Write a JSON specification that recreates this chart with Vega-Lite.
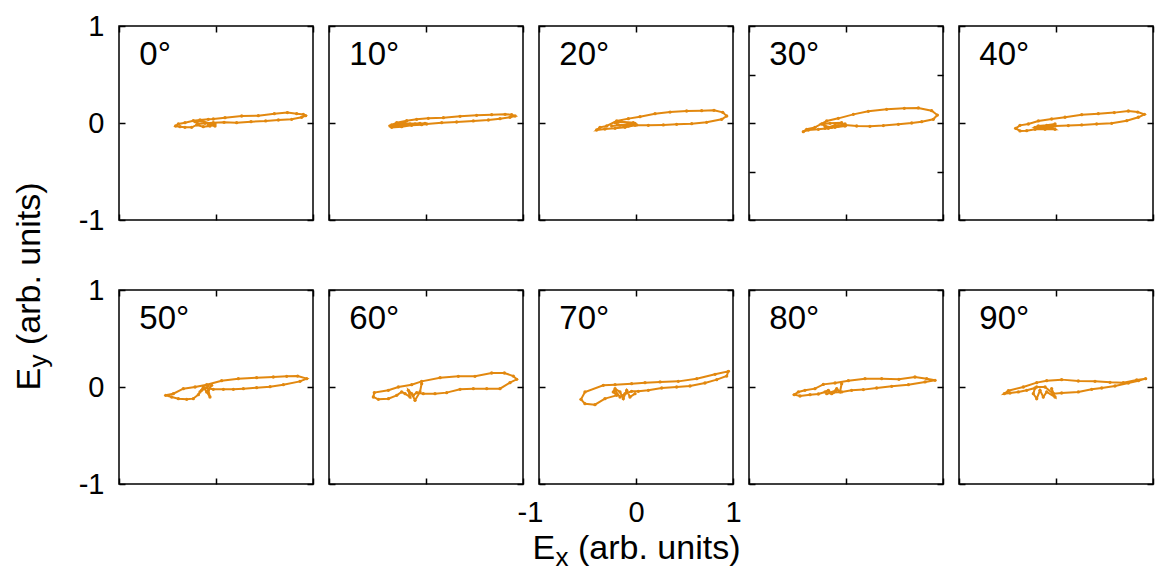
{
"$schema": "https://vega.github.io/schema/vega-lite/v6.json",
"background": "white",
"padding": {"left": 11, "top": 11, "right": 0, "bottom": 0},
"config": {
  "font": "Liberation Sans",
  "view": {"stroke": "black", "strokeWidth": 1.5},
  "axis": {"grid": false, "domain": false, "tickColor": "black", "tickSize": -6, "tickWidth": 1.5, "labelColor": "black", "labelFontSize": 29, "labelFont": "Liberation Sans", "labelFlush": false, "labelOverlap": false, "labelPadding": 21, "labelExpr": "'' + datum.value", "titleFont": "Liberation Sans", "titleColor": "black", "titleFontWeight": "normal", "titleFontSize": 34},
  "axisX": {"labelPadding": 20},
  "text": {"font": "Liberation Sans", "color": "black"}
},
"datasets": {
"d": [
{"a":0,"i":0,"x":-0.010,"y":-0.010},{"a":0,"i":1,"x":-0.062,"y":-0.031},{"a":0,"i":2,"x":-0.131,"y":-0.038},{"a":0,"i":3,"x":-0.199,"y":-0.020},{"a":0,"i":4,"x":-0.251,"y":-0.045},{"a":0,"i":5,"x":-0.320,"y":-0.045},{"a":0,"i":6,"x":-0.371,"y":-0.038},{"a":0,"i":7,"x":-0.416,"y":-0.031},{"a":0,"i":8,"x":-0.388,"y":-0.010},{"a":0,"i":9,"x":-0.320,"y":0.003},{"a":0,"i":10,"x":-0.234,"y":0.024},{"a":0,"i":11,"x":-0.165,"y":0.031},{"a":0,"i":12,"x":-0.079,"y":0.038},{"a":0,"i":13,"x":-0.028,"y":0.041},{"a":0,"i":14,"x":0.093,"y":0.055},{"a":0,"i":15,"x":0.265,"y":0.072},{"a":0,"i":16,"x":0.436,"y":0.076},{"a":0,"i":17,"x":0.601,"y":0.096},{"a":0,"i":18,"x":0.736,"y":0.107},{"a":0,"i":19,"x":0.832,"y":0.096},{"a":0,"i":20,"x":0.900,"y":0.089},{"a":0,"i":21,"x":0.924,"y":0.076},{"a":0,"i":22,"x":0.883,"y":0.059},{"a":0,"i":23,"x":0.780,"y":0.038},{"a":0,"i":24,"x":0.643,"y":0.031},{"a":0,"i":25,"x":0.512,"y":0.021},{"a":0,"i":26,"x":0.361,"y":0.014},{"a":0,"i":27,"x":0.213,"y":0.003},{"a":0,"i":28,"x":0.083,"y":0.007},{"a":0,"i":29,"x":-0.028,"y":0.003},{"a":0,"i":30,"x":-0.113,"y":-0.003},{"a":0,"i":31,"x":-0.182,"y":-0.010},{"a":0,"i":32,"x":-0.216,"y":0.014},{"a":0,"i":33,"x":-0.148,"y":0.021},{"a":0,"i":34,"x":-0.045,"y":-0.010},{"a":0,"i":35,"x":-0.010,"y":-0.031},{"a":0,"i":36,"x":-0.079,"y":-0.020},
{"a":10,"i":0,"x":-0.010,"y":-0.003},{"a":10,"i":1,"x":-0.113,"y":-0.010},{"a":10,"i":2,"x":-0.216,"y":-0.003},{"a":10,"i":3,"x":-0.302,"y":-0.010},{"a":10,"i":4,"x":-0.371,"y":-0.031},{"a":10,"i":5,"x":-0.354,"y":-0.045},{"a":10,"i":6,"x":-0.251,"y":-0.038},{"a":10,"i":7,"x":-0.148,"y":-0.024},{"a":10,"i":8,"x":-0.045,"y":-0.017},{"a":10,"i":9,"x":0.007,"y":-0.010},{"a":10,"i":10,"x":0.162,"y":0.003},{"a":10,"i":11,"x":0.316,"y":0.010},{"a":10,"i":12,"x":0.488,"y":0.021},{"a":10,"i":13,"x":0.643,"y":0.031},{"a":10,"i":14,"x":0.763,"y":0.045},{"a":10,"i":15,"x":0.866,"y":0.059},{"a":10,"i":16,"x":0.918,"y":0.072},{"a":10,"i":17,"x":0.883,"y":0.086},{"a":10,"i":18,"x":0.815,"y":0.089},{"a":10,"i":19,"x":0.677,"y":0.086},{"a":10,"i":20,"x":0.522,"y":0.079},{"a":10,"i":21,"x":0.351,"y":0.069},{"a":10,"i":22,"x":0.179,"y":0.055},{"a":10,"i":23,"x":0.024,"y":0.048},{"a":10,"i":24,"x":-0.096,"y":0.038},{"a":10,"i":25,"x":-0.199,"y":0.024},{"a":10,"i":26,"x":-0.302,"y":0.003},{"a":10,"i":27,"x":-0.354,"y":-0.020},{"a":10,"i":28,"x":-0.268,"y":-0.024},{"a":10,"i":29,"x":-0.165,"y":-0.010},{"a":10,"i":30,"x":-0.062,"y":-0.003},
{"a":20,"i":0,"x":-0.010,"y":-0.003},{"a":20,"i":1,"x":-0.079,"y":-0.031},{"a":20,"i":2,"x":-0.182,"y":-0.020},{"a":20,"i":3,"x":-0.216,"y":0.003},{"a":20,"i":4,"x":-0.148,"y":0.014},{"a":20,"i":5,"x":-0.028,"y":0.003},{"a":20,"i":6,"x":-0.010,"y":-0.024},{"a":20,"i":7,"x":-0.113,"y":-0.045},{"a":20,"i":8,"x":-0.216,"y":-0.055},{"a":20,"i":9,"x":-0.320,"y":-0.062},{"a":20,"i":10,"x":-0.406,"y":-0.072},{"a":20,"i":11,"x":-0.371,"y":-0.045},{"a":20,"i":12,"x":-0.302,"y":-0.031},{"a":20,"i":13,"x":-0.199,"y":0.021},{"a":20,"i":14,"x":-0.079,"y":0.045},{"a":20,"i":15,"x":0.041,"y":0.065},{"a":20,"i":16,"x":0.196,"y":0.096},{"a":20,"i":17,"x":0.351,"y":0.113},{"a":20,"i":18,"x":0.522,"y":0.124},{"a":20,"i":19,"x":0.677,"y":0.127},{"a":20,"i":20,"x":0.804,"y":0.131},{"a":20,"i":21,"x":0.894,"y":0.110},{"a":20,"i":22,"x":0.935,"y":0.072},{"a":20,"i":23,"x":0.883,"y":0.038},{"a":20,"i":24,"x":0.728,"y":0.007},{"a":20,"i":25,"x":0.574,"y":-0.007},{"a":20,"i":26,"x":0.419,"y":-0.014},{"a":20,"i":27,"x":0.282,"y":-0.020},{"a":20,"i":28,"x":0.127,"y":-0.024},{"a":20,"i":29,"x":0.007,"y":-0.020},{"a":20,"i":30,"x":-0.079,"y":-0.010},{"a":20,"i":31,"x":-0.165,"y":-0.024},{"a":20,"i":32,"x":-0.251,"y":-0.031},
{"a":30,"i":0,"x":-0.010,"y":-0.010},{"a":30,"i":1,"x":-0.079,"y":-0.031},{"a":30,"i":2,"x":-0.148,"y":-0.045},{"a":30,"i":3,"x":-0.216,"y":-0.031},{"a":30,"i":4,"x":-0.251,"y":-0.010},{"a":30,"i":5,"x":-0.165,"y":-0.003},{"a":30,"i":6,"x":-0.045,"y":0.003},{"a":30,"i":7,"x":-0.010,"y":-0.031},{"a":30,"i":8,"x":-0.113,"y":-0.045},{"a":30,"i":9,"x":-0.182,"y":-0.055},{"a":30,"i":10,"x":-0.285,"y":-0.065},{"a":30,"i":11,"x":-0.388,"y":-0.072},{"a":30,"i":12,"x":-0.440,"y":-0.089},{"a":30,"i":13,"x":-0.405,"y":-0.065},{"a":30,"i":14,"x":-0.320,"y":-0.045},{"a":30,"i":15,"x":-0.199,"y":0.021},{"a":30,"i":16,"x":-0.079,"y":0.048},{"a":30,"i":17,"x":0.076,"y":0.089},{"a":30,"i":18,"x":0.230,"y":0.120},{"a":30,"i":19,"x":0.419,"y":0.141},{"a":30,"i":20,"x":0.601,"y":0.151},{"a":30,"i":21,"x":0.746,"y":0.155},{"a":30,"i":22,"x":0.883,"y":0.127},{"a":30,"i":23,"x":0.942,"y":0.082},{"a":30,"i":24,"x":0.900,"y":0.038},{"a":30,"i":25,"x":0.780,"y":0.014},{"a":30,"i":26,"x":0.677,"y":0.000},{"a":30,"i":27,"x":0.540,"y":-0.014},{"a":30,"i":28,"x":0.385,"y":-0.027},{"a":30,"i":29,"x":0.247,"y":-0.034},{"a":30,"i":30,"x":0.110,"y":-0.031},{"a":30,"i":31,"x":-0.010,"y":-0.020},{"a":30,"i":32,"x":-0.113,"y":-0.024},{"a":30,"i":33,"x":-0.216,"y":-0.055},
{"a":40,"i":0,"x":-0.010,"y":-0.010},{"a":40,"i":1,"x":-0.096,"y":-0.024},{"a":40,"i":2,"x":-0.182,"y":-0.031},{"a":40,"i":3,"x":-0.216,"y":-0.045},{"a":40,"i":4,"x":-0.148,"y":-0.055},{"a":40,"i":5,"x":-0.045,"y":-0.045},{"a":40,"i":6,"x":-0.010,"y":-0.065},{"a":40,"i":7,"x":-0.113,"y":-0.065},{"a":40,"i":8,"x":-0.216,"y":-0.065},{"a":40,"i":9,"x":-0.302,"y":-0.079},{"a":40,"i":10,"x":-0.371,"y":-0.082},{"a":40,"i":11,"x":-0.416,"y":-0.055},{"a":40,"i":12,"x":-0.371,"y":-0.024},{"a":40,"i":13,"x":-0.285,"y":-0.010},{"a":40,"i":14,"x":-0.182,"y":0.021},{"a":40,"i":15,"x":-0.045,"y":0.041},{"a":40,"i":16,"x":0.093,"y":0.059},{"a":40,"i":17,"x":0.265,"y":0.086},{"a":40,"i":18,"x":0.436,"y":0.096},{"a":40,"i":19,"x":0.601,"y":0.107},{"a":40,"i":20,"x":0.746,"y":0.124},{"a":40,"i":21,"x":0.842,"y":0.113},{"a":40,"i":22,"x":0.911,"y":0.089},{"a":40,"i":23,"x":0.849,"y":0.059},{"a":40,"i":24,"x":0.729,"y":0.024},{"a":40,"i":25,"x":0.574,"y":-0.003},{"a":40,"i":26,"x":0.419,"y":-0.010},{"a":40,"i":27,"x":0.265,"y":-0.020},{"a":40,"i":28,"x":0.127,"y":-0.027},{"a":40,"i":29,"x":-0.010,"y":-0.031},{"a":40,"i":30,"x":-0.113,"y":-0.038},{"a":40,"i":31,"x":-0.199,"y":-0.045},
{"a":50,"i":0,"x":-0.045,"y":0.017},{"a":50,"i":1,"x":-0.079,"y":-0.034},{"a":50,"i":2,"x":-0.062,"y":-0.103},{"a":50,"i":3,"x":-0.096,"y":-0.051},{"a":50,"i":4,"x":-0.131,"y":0.000},{"a":50,"i":5,"x":-0.165,"y":-0.051},{"a":50,"i":6,"x":-0.182,"y":-0.079},{"a":50,"i":7,"x":-0.234,"y":-0.120},{"a":50,"i":8,"x":-0.302,"y":-0.127},{"a":50,"i":9,"x":-0.388,"y":-0.120},{"a":50,"i":10,"x":-0.457,"y":-0.103},{"a":50,"i":11,"x":-0.519,"y":-0.086},{"a":50,"i":12,"x":-0.440,"y":-0.069},{"a":50,"i":13,"x":-0.337,"y":-0.017},{"a":50,"i":14,"x":-0.216,"y":0.000},{"a":50,"i":15,"x":-0.096,"y":0.024},{"a":50,"i":16,"x":0.058,"y":0.065},{"a":50,"i":17,"x":0.230,"y":0.086},{"a":50,"i":18,"x":0.419,"y":0.096},{"a":50,"i":19,"x":0.591,"y":0.103},{"a":50,"i":20,"x":0.729,"y":0.110},{"a":50,"i":21,"x":0.842,"y":0.113},{"a":50,"i":22,"x":0.935,"y":0.086},{"a":50,"i":23,"x":0.866,"y":0.058},{"a":50,"i":24,"x":0.694,"y":0.024},{"a":50,"i":25,"x":0.557,"y":0.003},{"a":50,"i":26,"x":0.419,"y":-0.007},{"a":50,"i":27,"x":0.282,"y":-0.017},{"a":50,"i":28,"x":0.179,"y":-0.024},{"a":50,"i":29,"x":0.076,"y":-0.024},{"a":50,"i":30,"x":-0.028,"y":-0.024},{"a":50,"i":31,"x":-0.113,"y":-0.010},{"a":50,"i":32,"x":-0.148,"y":-0.034},{"a":50,"i":33,"x":-0.079,"y":0.010},
{"a":60,"i":0,"x":-0.045,"y":0.034},{"a":60,"i":1,"x":-0.062,"y":-0.051},{"a":60,"i":2,"x":-0.113,"y":-0.137},{"a":60,"i":3,"x":-0.148,"y":-0.069},{"a":60,"i":4,"x":-0.182,"y":-0.034},{"a":60,"i":5,"x":-0.165,"y":-0.103},{"a":60,"i":6,"x":-0.216,"y":-0.069},{"a":60,"i":7,"x":-0.251,"y":-0.051},{"a":60,"i":8,"x":-0.302,"y":-0.086},{"a":60,"i":9,"x":-0.388,"y":-0.120},{"a":60,"i":10,"x":-0.491,"y":-0.127},{"a":60,"i":11,"x":-0.543,"y":-0.103},{"a":60,"i":12,"x":-0.533,"y":-0.058},{"a":60,"i":13,"x":-0.388,"y":-0.034},{"a":60,"i":14,"x":-0.285,"y":0.000},{"a":60,"i":15,"x":-0.148,"y":0.024},{"a":60,"i":16,"x":-0.045,"y":0.058},{"a":60,"i":17,"x":0.145,"y":0.096},{"a":60,"i":18,"x":0.333,"y":0.110},{"a":60,"i":19,"x":0.505,"y":0.110},{"a":60,"i":20,"x":0.677,"y":0.144},{"a":60,"i":21,"x":0.808,"y":0.144},{"a":60,"i":22,"x":0.900,"y":0.113},{"a":60,"i":23,"x":0.935,"y":0.079},{"a":60,"i":24,"x":0.866,"y":0.045},{"a":60,"i":25,"x":0.763,"y":-0.017},{"a":60,"i":26,"x":0.626,"y":-0.017},{"a":60,"i":27,"x":0.488,"y":-0.017},{"a":60,"i":28,"x":0.351,"y":-0.024},{"a":60,"i":29,"x":0.213,"y":-0.058},{"a":60,"i":30,"x":0.093,"y":-0.069},{"a":60,"i":31,"x":-0.028,"y":-0.069},{"a":60,"i":32,"x":-0.096,"y":-0.058},{"a":60,"i":33,"x":-0.131,"y":-0.086},
{"a":70,"i":0,"x":-0.010,"y":-0.069},{"a":70,"i":1,"x":-0.062,"y":-0.103},{"a":70,"i":2,"x":-0.096,"y":-0.034},{"a":70,"i":3,"x":-0.131,"y":-0.120},{"a":70,"i":4,"x":-0.165,"y":-0.051},{"a":70,"i":5,"x":-0.216,"y":-0.017},{"a":70,"i":6,"x":-0.234,"y":-0.051},{"a":70,"i":7,"x":-0.199,"y":-0.086},{"a":70,"i":8,"x":-0.320,"y":-0.120},{"a":70,"i":9,"x":-0.423,"y":-0.182},{"a":70,"i":10,"x":-0.526,"y":-0.172},{"a":70,"i":11,"x":-0.567,"y":-0.127},{"a":70,"i":12,"x":-0.526,"y":-0.051},{"a":70,"i":13,"x":-0.337,"y":0.017},{"a":70,"i":14,"x":-0.216,"y":0.024},{"a":70,"i":15,"x":-0.045,"y":0.034},{"a":70,"i":16,"x":0.093,"y":0.045},{"a":70,"i":17,"x":0.248,"y":0.052},{"a":70,"i":18,"x":0.436,"y":0.058},{"a":70,"i":19,"x":0.626,"y":0.086},{"a":70,"i":20,"x":0.815,"y":0.131},{"a":70,"i":21,"x":0.952,"y":0.162},{"a":70,"i":22,"x":0.935,"y":0.113},{"a":70,"i":23,"x":0.832,"y":0.076},{"a":70,"i":24,"x":0.711,"y":0.041},{"a":70,"i":25,"x":0.557,"y":0.010},{"a":70,"i":26,"x":0.419,"y":0.000},{"a":70,"i":27,"x":0.265,"y":-0.010},{"a":70,"i":28,"x":0.127,"y":-0.034},{"a":70,"i":29,"x":0.024,"y":-0.045},{"a":70,"i":30,"x":-0.045,"y":-0.045},{"a":70,"i":31,"x":-0.113,"y":-0.069},{"a":70,"i":32,"x":-0.165,"y":-0.103},{"a":70,"i":33,"x":-0.216,"y":-0.034},
{"a":80,"i":0,"x":-0.045,"y":0.034},{"a":80,"i":1,"x":-0.062,"y":-0.051},{"a":80,"i":2,"x":-0.096,"y":-0.017},{"a":80,"i":3,"x":-0.148,"y":-0.069},{"a":80,"i":4,"x":-0.182,"y":-0.034},{"a":80,"i":5,"x":-0.216,"y":-0.051},{"a":80,"i":6,"x":-0.285,"y":-0.072},{"a":80,"i":7,"x":-0.371,"y":-0.079},{"a":80,"i":8,"x":-0.474,"y":-0.093},{"a":80,"i":9,"x":-0.533,"y":-0.079},{"a":80,"i":10,"x":-0.491,"y":-0.051},{"a":80,"i":11,"x":-0.423,"y":-0.034},{"a":80,"i":12,"x":-0.320,"y":-0.017},{"a":80,"i":13,"x":-0.234,"y":0.027},{"a":80,"i":14,"x":-0.113,"y":0.041},{"a":80,"i":15,"x":0.024,"y":0.065},{"a":80,"i":16,"x":0.196,"y":0.086},{"a":80,"i":17,"x":0.368,"y":0.086},{"a":80,"i":18,"x":0.546,"y":0.079},{"a":80,"i":19,"x":0.711,"y":0.103},{"a":80,"i":20,"x":0.832,"y":0.086},{"a":80,"i":21,"x":0.918,"y":0.069},{"a":80,"i":22,"x":0.815,"y":0.052},{"a":80,"i":23,"x":0.643,"y":0.024},{"a":80,"i":24,"x":0.471,"y":0.007},{"a":80,"i":25,"x":0.316,"y":-0.010},{"a":80,"i":26,"x":0.179,"y":-0.027},{"a":80,"i":27,"x":0.058,"y":-0.034},{"a":80,"i":28,"x":-0.045,"y":-0.051},{"a":80,"i":29,"x":-0.131,"y":-0.058},{"a":80,"i":30,"x":-0.199,"y":-0.069},{"a":80,"i":31,"x":-0.096,"y":-0.034},
{"a":90,"i":0,"x":-0.028,"y":-0.069},{"a":90,"i":1,"x":-0.045,"y":-0.017},{"a":90,"i":2,"x":-0.010,"y":-0.103},{"a":90,"i":3,"x":-0.096,"y":-0.051},{"a":90,"i":4,"x":-0.131,"y":-0.103},{"a":90,"i":5,"x":-0.165,"y":-0.034},{"a":90,"i":6,"x":-0.199,"y":-0.120},{"a":90,"i":7,"x":-0.234,"y":-0.069},{"a":90,"i":8,"x":-0.216,"y":-0.010},{"a":90,"i":9,"x":-0.302,"y":-0.034},{"a":90,"i":10,"x":-0.388,"y":-0.051},{"a":90,"i":11,"x":-0.474,"y":-0.062},{"a":90,"i":12,"x":-0.533,"y":-0.069},{"a":90,"i":13,"x":-0.491,"y":-0.038},{"a":90,"i":14,"x":-0.337,"y":0.000},{"a":90,"i":15,"x":-0.199,"y":0.045},{"a":90,"i":16,"x":-0.096,"y":0.065},{"a":90,"i":17,"x":0.058,"y":0.076},{"a":90,"i":18,"x":0.230,"y":0.062},{"a":90,"i":19,"x":0.402,"y":0.058},{"a":90,"i":20,"x":0.557,"y":0.048},{"a":90,"i":21,"x":0.694,"y":0.045},{"a":90,"i":22,"x":0.832,"y":0.072},{"a":90,"i":23,"x":0.924,"y":0.086},{"a":90,"i":24,"x":0.849,"y":0.065},{"a":90,"i":25,"x":0.746,"y":0.041},{"a":90,"i":26,"x":0.608,"y":0.010},{"a":90,"i":27,"x":0.471,"y":-0.010},{"a":90,"i":28,"x":0.368,"y":-0.024},{"a":90,"i":29,"x":0.230,"y":-0.051},{"a":90,"i":30,"x":0.058,"y":-0.062},{"a":90,"i":31,"x":-0.028,"y":-0.069},{"a":90,"i":32,"x":-0.113,"y":0.000},{"a":90,"i":33,"x":-0.199,"y":0.000}
]
},
"columns": 5,
"spacing": {"row": 70, "column": 16},
"bounds": "flush",
"concat": [
{"width":194,"height":194,"data":{"name":"d"},"transform":[{"filter":"datum.a==0"}],"layer":[
 {"mark":{"type":"line","color":"#e2880f","strokeWidth":2,"point":{"filled":true,"size":11,"color":"#e2880f"}},
  "encoding":{"x":{"field":"x","type":"quantitative","scale":{"domain":[-1,1],"nice":false,"zero":false},"axis":{"orient":"bottom","values":[-1,0,1],"labels":false,"title":null}},
   "y":{"field":"y","type":"quantitative","scale":{"domain":[-1,1],"nice":false,"zero":false},"axis":{"orient":"left","values":[-1,0,1],"labels":true,"title":"(arb. units)","titleAngle":270,"titleAlign":"left","titleBaseline":"alphabetic","titleX":-79.5,"titleY":318.5}},
   "order":{"field":"i","type":"quantitative"}}},
 {"data":{"values":[{}]},"mark":{"type":"text","text":"0°","align":"left","baseline":"alphabetic","fontSize":33},
  "encoding":{"x":{"datum":-0.79,"type":"quantitative","scale":{"domain":[-1,1],"nice":false,"zero":false},"axis":{"orient":"top","values":[-1,0,1],"labels":false,"title":null}},
   "y":{"datum":0.6,"type":"quantitative","scale":{"domain":[-1,1],"nice":false,"zero":false},"axis":{"orient":"right","values":[-1,0,1],"labels":false,"title":null}}}}
 ],"resolve":{"axis":{"x":"independent","y":"independent"}}},
{"width":194,"height":194,"data":{"name":"d"},"transform":[{"filter":"datum.a==10"}],"layer":[
 {"mark":{"type":"line","color":"#e2880f","strokeWidth":2,"point":{"filled":true,"size":11,"color":"#e2880f"}},
  "encoding":{"x":{"field":"x","type":"quantitative","scale":{"domain":[-1,1],"nice":false,"zero":false},"axis":{"orient":"bottom","values":[-1,0,1],"labels":false,"title":null}},
   "y":{"field":"y","type":"quantitative","scale":{"domain":[-1,1],"nice":false,"zero":false},"axis":{"orient":"left","values":[-1,0,1],"labels":false,"title":null}},
   "order":{"field":"i","type":"quantitative"}}},
 {"data":{"values":[{}]},"mark":{"type":"text","text":"10°","align":"left","baseline":"alphabetic","fontSize":33},
  "encoding":{"x":{"datum":-0.79,"type":"quantitative","scale":{"domain":[-1,1],"nice":false,"zero":false},"axis":{"orient":"top","values":[-1,0,1],"labels":false,"title":null}},
   "y":{"datum":0.6,"type":"quantitative","scale":{"domain":[-1,1],"nice":false,"zero":false},"axis":{"orient":"right","values":[-1,0,1],"labels":false,"title":null}}}}
 ],"resolve":{"axis":{"x":"independent","y":"independent"}}},
{"width":194,"height":194,"data":{"name":"d"},"transform":[{"filter":"datum.a==20"}],"layer":[
 {"mark":{"type":"line","color":"#e2880f","strokeWidth":2,"point":{"filled":true,"size":11,"color":"#e2880f"}},
  "encoding":{"x":{"field":"x","type":"quantitative","scale":{"domain":[-1,1],"nice":false,"zero":false},"axis":{"orient":"bottom","values":[-1,0,1],"labels":false,"title":null}},
   "y":{"field":"y","type":"quantitative","scale":{"domain":[-1,1],"nice":false,"zero":false},"axis":{"orient":"left","values":[-1,0,1],"labels":false,"title":null}},
   "order":{"field":"i","type":"quantitative"}}},
 {"data":{"values":[{}]},"mark":{"type":"text","text":"20°","align":"left","baseline":"alphabetic","fontSize":33},
  "encoding":{"x":{"datum":-0.79,"type":"quantitative","scale":{"domain":[-1,1],"nice":false,"zero":false},"axis":{"orient":"top","values":[-1,0,1],"labels":false,"title":null}},
   "y":{"datum":0.6,"type":"quantitative","scale":{"domain":[-1,1],"nice":false,"zero":false},"axis":{"orient":"right","values":[-1,0,1],"labels":false,"title":null}}}}
 ],"resolve":{"axis":{"x":"independent","y":"independent"}}},
{"width":194,"height":194,"data":{"name":"d"},"transform":[{"filter":"datum.a==30"}],"layer":[
 {"mark":{"type":"line","color":"#e2880f","strokeWidth":2,"point":{"filled":true,"size":11,"color":"#e2880f"}},
  "encoding":{"x":{"field":"x","type":"quantitative","scale":{"domain":[-1,1],"nice":false,"zero":false},"axis":{"orient":"bottom","values":[-1,0,1],"labels":false,"title":null}},
   "y":{"field":"y","type":"quantitative","scale":{"domain":[-1,1],"nice":false,"zero":false},"axis":{"orient":"left","values":[-1,-0.5,0,0.5,1],"labels":false,"title":null}},
   "order":{"field":"i","type":"quantitative"}}},
 {"data":{"values":[{}]},"mark":{"type":"text","text":"30°","align":"left","baseline":"alphabetic","fontSize":33},
  "encoding":{"x":{"datum":-0.79,"type":"quantitative","scale":{"domain":[-1,1],"nice":false,"zero":false},"axis":{"orient":"top","values":[-1,0,1],"labels":false,"title":null}},
   "y":{"datum":0.6,"type":"quantitative","scale":{"domain":[-1,1],"nice":false,"zero":false},"axis":{"orient":"right","values":[-1,-0.5,0,0.5,1],"labels":false,"title":null}}}}
 ],"resolve":{"axis":{"x":"independent","y":"independent"}}},
{"width":194,"height":194,"data":{"name":"d"},"transform":[{"filter":"datum.a==40"}],"layer":[
 {"mark":{"type":"line","color":"#e2880f","strokeWidth":2,"point":{"filled":true,"size":11,"color":"#e2880f"}},
  "encoding":{"x":{"field":"x","type":"quantitative","scale":{"domain":[-1,1],"nice":false,"zero":false},"axis":{"orient":"bottom","values":[-1,0,1],"labels":false,"title":null}},
   "y":{"field":"y","type":"quantitative","scale":{"domain":[-1,1],"nice":false,"zero":false},"axis":{"orient":"left","values":[-1,0,1],"labels":false,"title":null}},
   "order":{"field":"i","type":"quantitative"}}},
 {"data":{"values":[{}]},"mark":{"type":"text","text":"40°","align":"left","baseline":"alphabetic","fontSize":33},
  "encoding":{"x":{"datum":-0.79,"type":"quantitative","scale":{"domain":[-1,1],"nice":false,"zero":false},"axis":{"orient":"top","values":[-1,0,1],"labels":false,"title":null}},
   "y":{"datum":0.6,"type":"quantitative","scale":{"domain":[-1,1],"nice":false,"zero":false},"axis":{"orient":"right","values":[-1,0,1],"labels":false,"title":null}}}}
 ],"resolve":{"axis":{"x":"independent","y":"independent"}}},
{"width":194,"height":194,"data":{"name":"d"},"transform":[{"filter":"datum.a==50"}],"layer":[
 {"mark":{"type":"line","color":"#e2880f","strokeWidth":2,"point":{"filled":true,"size":11,"color":"#e2880f"}},
  "encoding":{"x":{"field":"x","type":"quantitative","scale":{"domain":[-1,1],"nice":false,"zero":false},"axis":{"orient":"bottom","values":[-1,0,1],"labels":false,"title":null}},
   "y":{"field":"y","type":"quantitative","scale":{"domain":[-1,1],"nice":false,"zero":false},"axis":{"orient":"left","values":[-1,0,1],"labels":true,"title":"E","titleAngle":270,"titleAlign":"left","titleBaseline":"alphabetic","titleX":-79.5,"titleY":100}},
   "order":{"field":"i","type":"quantitative"}}},
 {"data":{"values":[{}]},"mark":{"type":"text","text":"50°","align":"left","baseline":"alphabetic","fontSize":33},
  "encoding":{"x":{"datum":-0.79,"type":"quantitative","scale":{"domain":[-1,1],"nice":false,"zero":false},"axis":{"orient":"top","values":[-1,0,1],"labels":false,"title":null}},
   "y":{"datum":0.6,"type":"quantitative","scale":{"domain":[-1,1],"nice":false,"zero":false},"axis":{"orient":"right","values":[-1,0,1],"labels":false,"title":"y","titleFontSize":26,"titleAngle":270,"titleAlign":"left","titleBaseline":"alphabetic","titleX":-266.5,"titleY":77}}}}
 ],"resolve":{"axis":{"x":"independent","y":"independent"}}},
{"width":194,"height":194,"data":{"name":"d"},"transform":[{"filter":"datum.a==60"}],"layer":[
 {"mark":{"type":"line","color":"#e2880f","strokeWidth":2,"point":{"filled":true,"size":11,"color":"#e2880f"}},
  "encoding":{"x":{"field":"x","type":"quantitative","scale":{"domain":[-1,1],"nice":false,"zero":false},"axis":{"orient":"bottom","values":[-1,0,1],"labels":false,"title":null}},
   "y":{"field":"y","type":"quantitative","scale":{"domain":[-1,1],"nice":false,"zero":false},"axis":{"orient":"left","values":[-1,0,1],"labels":false,"title":null}},
   "order":{"field":"i","type":"quantitative"}}},
 {"data":{"values":[{}]},"mark":{"type":"text","text":"60°","align":"left","baseline":"alphabetic","fontSize":33},
  "encoding":{"x":{"datum":-0.79,"type":"quantitative","scale":{"domain":[-1,1],"nice":false,"zero":false},"axis":{"orient":"top","values":[-1,0,1],"labels":false,"title":null}},
   "y":{"datum":0.6,"type":"quantitative","scale":{"domain":[-1,1],"nice":false,"zero":false},"axis":{"orient":"right","values":[-1,0,1],"labels":false,"title":null}}}}
 ],"resolve":{"axis":{"x":"independent","y":"independent"}}},
{"width":194,"height":194,"data":{"name":"d"},"transform":[{"filter":"datum.a==70"}],"layer":[
 {"mark":{"type":"line","color":"#e2880f","strokeWidth":2,"point":{"filled":true,"size":11,"color":"#e2880f"}},
  "encoding":{"x":{"field":"x","type":"quantitative","scale":{"domain":[-1,1],"nice":false,"zero":false},"axis":{"orient":"bottom","values":[-1,0,1],"labels":true,"labelOffset":{"condition":{"test":"datum.value < 0","value":-9},"value":0},"title":"E","titleAngle":0,"titleAlign":"left","titleBaseline":"alphabetic","titleX":-7,"titleY":74}},
   "y":{"field":"y","type":"quantitative","scale":{"domain":[-1,1],"nice":false,"zero":false},"axis":{"orient":"left","values":[-1,0,1],"labels":false,"title":"(arb. units)","titleAngle":0,"titleAlign":"left","titleBaseline":"alphabetic","titleX":38.5,"titleY":268}},
   "order":{"field":"i","type":"quantitative"}}},
 {"data":{"values":[{}]},"mark":{"type":"text","text":"70°","align":"left","baseline":"alphabetic","fontSize":33},
  "encoding":{"x":{"datum":-0.79,"type":"quantitative","scale":{"domain":[-1,1],"nice":false,"zero":false},"axis":{"orient":"top","values":[-1,0,1],"labels":false,"title":"x","titleFontSize":26,"titleAngle":0,"titleAlign":"left","titleBaseline":"alphabetic","titleX":16,"titleY":275}},
   "y":{"datum":0.6,"type":"quantitative","scale":{"domain":[-1,1],"nice":false,"zero":false},"axis":{"orient":"right","values":[-1,0,1],"labels":false,"title":null}}}}
 ],"resolve":{"axis":{"x":"independent","y":"independent"}}},
{"width":194,"height":194,"data":{"name":"d"},"transform":[{"filter":"datum.a==80"}],"layer":[
 {"mark":{"type":"line","color":"#e2880f","strokeWidth":2,"point":{"filled":true,"size":11,"color":"#e2880f"}},
  "encoding":{"x":{"field":"x","type":"quantitative","scale":{"domain":[-1,1],"nice":false,"zero":false},"axis":{"orient":"bottom","values":[-1,0,1],"labels":false,"title":null}},
   "y":{"field":"y","type":"quantitative","scale":{"domain":[-1,1],"nice":false,"zero":false},"axis":{"orient":"left","values":[-1,0,1],"labels":false,"title":null}},
   "order":{"field":"i","type":"quantitative"}}},
 {"data":{"values":[{}]},"mark":{"type":"text","text":"80°","align":"left","baseline":"alphabetic","fontSize":33},
  "encoding":{"x":{"datum":-0.79,"type":"quantitative","scale":{"domain":[-1,1],"nice":false,"zero":false},"axis":{"orient":"top","values":[-1,0,1],"labels":false,"title":null}},
   "y":{"datum":0.6,"type":"quantitative","scale":{"domain":[-1,1],"nice":false,"zero":false},"axis":{"orient":"right","values":[-1,0,1],"labels":false,"title":null}}}}
 ],"resolve":{"axis":{"x":"independent","y":"independent"}}},
{"width":194,"height":194,"data":{"name":"d"},"transform":[{"filter":"datum.a==90"}],"layer":[
 {"mark":{"type":"line","color":"#e2880f","strokeWidth":2,"point":{"filled":true,"size":11,"color":"#e2880f"}},
  "encoding":{"x":{"field":"x","type":"quantitative","scale":{"domain":[-1,1],"nice":false,"zero":false},"axis":{"orient":"bottom","values":[-1,0,1],"labels":false,"title":null}},
   "y":{"field":"y","type":"quantitative","scale":{"domain":[-1,1],"nice":false,"zero":false},"axis":{"orient":"left","values":[-1,0,1],"labels":false,"title":null}},
   "order":{"field":"i","type":"quantitative"}}},
 {"data":{"values":[{}]},"mark":{"type":"text","text":"90°","align":"left","baseline":"alphabetic","fontSize":33},
  "encoding":{"x":{"datum":-0.79,"type":"quantitative","scale":{"domain":[-1,1],"nice":false,"zero":false},"axis":{"orient":"top","values":[-1,0,1],"labels":false,"title":null}},
   "y":{"datum":0.6,"type":"quantitative","scale":{"domain":[-1,1],"nice":false,"zero":false},"axis":{"orient":"right","values":[-1,0,1],"labels":false,"title":null}}}}
 ],"resolve":{"axis":{"x":"independent","y":"independent"}}}
]
}
